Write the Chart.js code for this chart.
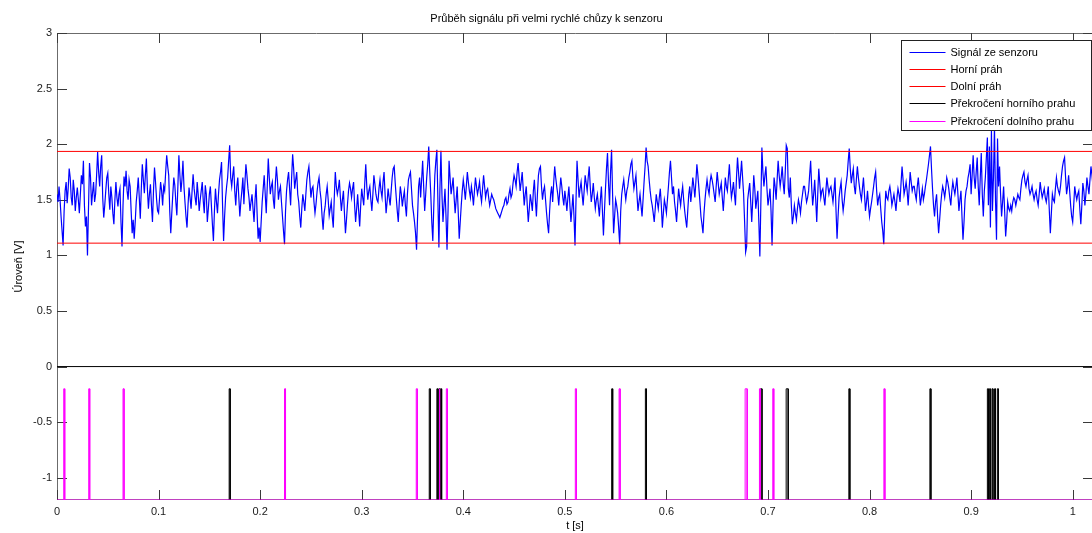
<!DOCTYPE html>
<html>
<head>
<meta charset="utf-8">
<title>Průběh signálu</title>
<script src="https://cdn.jsdelivr.net/npm/chart.js@4.4.1/dist/chart.umd.min.js"></script>
<style>
  html, body { margin: 0; padding: 0; background: #fff; overflow: hidden; }
  #wrap { width: 1100px; height: 533px; }
</style>
</head>
<body>
<div id="wrap"><canvas id="c" width="1100" height="533"></canvas></div>
<script>
// Sampling step of the sensor record [s] and the plotted time span
const dt = 0.001;
const tMax = 1.02;

// Sensor output [V], one value per sample
const signal = [
  1.55, 1.48, 1.62, 1.50, 1.35, 1.22, 1.09, 1.40, 1.58, 1.66, 1.47, 1.60, 1.78, 1.70, 1.52, 1.45, 1.68, 1.58, 1.40, 1.52,
  1.61, 1.50, 1.38, 1.55, 1.72, 1.64, 1.85, 1.45, 1.26, 1.35, 1.00, 1.42, 1.83, 1.70, 1.45, 1.56, 1.66, 1.48, 1.55, 1.72,
  1.93, 1.75, 1.62, 1.80, 1.90, 1.52, 1.34, 1.45, 1.58, 1.70, 1.74, 1.55, 1.41, 1.62, 1.52, 1.38, 1.28, 1.50, 1.66, 1.52,
  1.44, 1.55, 1.60, 1.30, 1.08, 1.45, 1.71, 1.62, 1.76, 1.58, 1.50, 1.68, 1.62, 1.40, 1.20, 1.32, 1.15, 1.30, 1.48, 1.58,
  1.70, 1.52, 1.33, 1.60, 1.82, 1.68, 1.56, 1.72, 1.87, 1.60, 1.42, 1.55, 1.64, 1.45, 1.30, 1.58, 1.79, 1.66, 1.51, 1.40,
  1.38, 1.52, 1.66, 1.58, 1.45, 1.62, 1.58, 1.75, 1.90, 1.80, 1.72, 1.40, 1.20, 1.38, 1.55, 1.70, 1.63, 1.48, 1.36, 1.62,
  1.90, 1.72, 1.57, 1.68, 1.85, 1.62, 1.48, 1.35, 1.25, 1.45, 1.61, 1.52, 1.42, 1.58, 1.73, 1.60, 1.52, 1.45, 1.66, 1.55,
  1.40, 1.50, 1.58, 1.66, 1.49, 1.38, 1.63, 1.55, 1.30, 1.42, 1.55, 1.62, 1.45, 1.28, 1.13, 1.40, 1.60, 1.48, 1.38, 1.55,
  1.68, 1.75, 1.84, 1.45, 1.13, 1.35, 1.52, 1.62, 1.70, 1.85, 1.99, 1.70, 1.62, 1.72, 1.80, 1.58, 1.45, 1.62, 1.70, 1.52,
  1.35, 1.48, 1.58, 1.70, 1.46, 1.65, 1.82, 1.72, 1.60, 1.52, 1.40, 1.48, 1.55, 1.42, 1.30, 1.50, 1.64, 1.38, 1.15, 1.25,
  1.12, 1.30, 1.48, 1.60, 1.72, 1.55, 1.38, 1.62, 1.87, 1.70, 1.55, 1.62, 1.66, 1.50, 1.42, 1.65, 1.80, 1.68, 1.50, 1.58,
  1.62, 1.48, 1.35, 1.22, 1.10, 1.40, 1.58, 1.68, 1.75, 1.60, 1.45, 1.70, 1.91, 1.78, 1.60, 1.68, 1.75, 1.55, 1.48, 1.35,
  1.25, 1.42, 1.55, 1.48, 1.40, 1.55, 1.68, 1.75, 1.80, 1.66, 1.52, 1.60, 1.62, 1.48, 1.38, 1.46, 1.57, 1.65, 1.70, 1.58,
  1.50, 1.35, 1.23, 1.38, 1.44, 1.55, 1.62, 1.50, 1.36, 1.42, 1.48, 1.35, 1.25, 1.52, 1.75, 1.62, 1.55, 1.60, 1.68, 1.52,
  1.40, 1.50, 1.58, 1.38, 1.20, 1.32, 1.46, 1.58, 1.65, 1.60, 1.52, 1.60, 1.66, 1.45, 1.30, 1.42, 1.55, 1.40, 1.26, 1.45,
  1.60, 1.52, 1.45, 1.65, 1.82, 1.62, 1.50, 1.58, 1.62, 1.50, 1.40, 1.55, 1.72, 1.64, 1.55, 1.50, 1.48, 1.60, 1.68, 1.58,
  1.52, 1.66, 1.75, 1.55, 1.38, 1.48, 1.60, 1.52, 1.45, 1.58, 1.70, 1.78, 1.80, 1.65, 1.52, 1.40, 1.30, 1.48, 1.62, 1.55,
  1.44, 1.52, 1.58, 1.45, 1.35, 1.55, 1.68, 1.72, 1.75, 1.60, 1.45, 1.38, 1.30, 1.20, 1.05, 1.35, 1.62, 1.70, 1.52, 1.68,
  1.85, 1.62, 1.40, 1.55, 1.70, 1.82, 1.98, 1.75, 1.55, 1.30, 1.13, 1.45, 1.72, 1.85, 1.95, 1.50, 1.07, 1.60, 1.94, 1.55,
  1.30, 1.45, 1.60, 1.35, 1.05, 1.40, 1.85, 1.70, 1.55, 1.62, 1.70, 1.52, 1.38, 1.50, 1.62, 1.40, 1.15, 1.30, 1.45, 1.58,
  1.68, 1.60, 1.50, 1.62, 1.75, 1.66, 1.58, 1.52, 1.62, 1.55, 1.45, 1.58, 1.70, 1.62, 1.55, 1.60, 1.66, 1.55, 1.48, 1.60,
  1.72, 1.62, 1.52, 1.58, 1.60, 1.52, 1.45, 1.50, 1.55, 1.52, 1.50, 1.46, 1.42, 1.40, 1.38, 1.36, 1.34, 1.37, 1.40, 1.43,
  1.45, 1.50, 1.52, 1.46, 1.48, 1.55, 1.60, 1.52, 1.55, 1.65, 1.72, 1.68, 1.62, 1.75, 1.83, 1.70, 1.58, 1.66, 1.75, 1.60,
  1.45, 1.55, 1.62, 1.45, 1.30, 1.42, 1.55, 1.48, 1.40, 1.58, 1.68, 1.50, 1.35, 1.55, 1.72, 1.78, 1.80, 1.62, 1.50, 1.58,
  1.62, 1.50, 1.38, 1.28, 1.20, 1.40, 1.55, 1.62, 1.48, 1.65, 1.80, 1.70, 1.62, 1.55, 1.45, 1.58, 1.70, 1.62, 1.52, 1.45,
  1.58, 1.50, 1.40, 1.52, 1.62, 1.45, 1.30, 1.42, 1.55, 1.35, 1.09, 1.50, 1.85, 1.68, 1.52, 1.60, 1.66, 1.55, 1.45, 1.58,
  1.72, 1.65, 1.58, 1.70, 1.80, 1.62, 1.48, 1.55, 1.65, 1.52, 1.42, 1.50, 1.55, 1.45, 1.35, 1.50, 1.62, 1.40, 1.18, 1.40,
  1.60, 1.78, 1.92, 1.65, 1.45, 1.75, 1.95, 1.55, 1.20, 1.35, 1.50, 1.45, 1.38, 1.25, 1.10, 1.40, 1.55, 1.62, 1.68, 1.58,
  1.50, 1.58, 1.62, 1.70, 1.75, 1.82, 1.85, 1.70, 1.60, 1.66, 1.72, 1.55, 1.40, 1.48, 1.55, 1.45, 1.35, 1.50, 1.66, 1.80,
  1.97, 1.85, 1.80, 1.68, 1.58, 1.50, 1.45, 1.38, 1.30, 1.42, 1.55, 1.48, 1.42, 1.52, 1.60, 1.45, 1.25, 1.38, 1.50, 1.45,
  1.38, 1.50, 1.62, 1.75, 1.85, 1.70, 1.55, 1.62, 1.48, 1.40, 1.30, 1.45, 1.60, 1.52, 1.45, 1.55, 1.62, 1.50, 1.40, 1.32,
  1.25, 1.40, 1.55, 1.62, 1.48, 1.58, 1.70, 1.62, 1.52, 1.66, 1.82, 1.72, 1.60, 1.48, 1.35, 1.28, 1.20, 1.38, 1.50, 1.60,
  1.68, 1.60, 1.55, 1.66, 1.72, 1.68, 1.62, 1.55, 1.48, 1.62, 1.75, 1.65, 1.55, 1.60, 1.65, 1.52, 1.40, 1.55, 1.70, 1.62,
  1.58, 1.70, 1.82, 1.65, 1.52, 1.58, 1.66, 1.55, 1.45, 1.70, 1.88, 1.75, 1.60, 1.72, 1.85, 1.70, 1.55, 1.30, 1.03, 1.08,
  1.50, 1.58, 1.65, 1.48, 1.30, 1.50, 1.72, 1.60, 1.42, 1.50, 1.58, 1.30, 0.99, 1.48, 1.97, 1.75, 1.62, 1.72, 1.80, 1.60,
  1.45, 1.52, 1.60, 1.40, 1.09, 1.45, 1.70, 1.62, 1.50, 1.68, 1.85, 1.72, 1.62, 1.70, 1.80, 1.65, 1.55, 1.75, 1.99, 1.96,
  1.60, 1.52, 1.70, 1.45, 1.28, 1.35, 1.45, 1.38, 1.32, 1.42, 1.50, 1.45, 1.38, 1.48, 1.55, 1.62, 1.62, 1.55, 1.48, 1.52,
  1.58, 1.72, 1.85, 1.62, 1.45, 1.55, 1.68, 1.50, 1.30, 1.55, 1.78, 1.65, 1.52, 1.58, 1.60, 1.52, 1.45, 1.58, 1.70, 1.62,
  1.55, 1.60, 1.62, 1.55, 1.48, 1.58, 1.70, 1.40, 1.15, 1.35, 1.52, 1.60, 1.66, 1.50, 1.40, 1.48, 1.58, 1.65, 1.72, 1.85,
  1.96, 1.78, 1.65, 1.72, 1.78, 1.62, 1.55, 1.68, 1.80, 1.70, 1.62, 1.55, 1.50, 1.60, 1.70, 1.55, 1.40, 1.48, 1.58, 1.45,
  1.35, 1.42, 1.48, 1.55, 1.62, 1.70, 1.75, 1.58, 1.45, 1.52, 1.55, 1.42, 1.30, 1.22, 1.10, 1.38, 1.58, 1.52, 1.50, 1.58,
  1.62, 1.55, 1.45, 1.50, 1.55, 1.48, 1.40, 1.52, 1.60, 1.55, 1.48, 1.65, 1.80, 1.68, 1.55, 1.60, 1.66, 1.58, 1.45, 1.60,
  1.75, 1.66, 1.58, 1.62, 1.62, 1.55, 1.50, 1.62, 1.70, 1.58, 1.45, 1.52, 1.60, 1.50, 1.55, 1.62, 1.68, 1.75, 1.82, 1.90,
  1.98, 1.78, 1.60, 1.45, 1.35, 1.48, 1.55, 1.35, 1.20, 1.32, 1.45, 1.55, 1.62, 1.58, 1.52, 1.60, 1.70, 1.66, 1.60, 1.52,
  1.45, 1.58, 1.66, 1.60, 1.55, 1.62, 1.70, 1.55, 1.40, 1.50, 1.58, 1.35, 1.14, 1.30, 1.50, 1.58, 1.62, 1.70, 1.75, 1.82,
  1.55, 1.72, 1.90, 1.70, 1.60, 1.75, 1.88, 1.62, 1.45, 1.70, 1.92, 1.55, 1.35, 1.58, 1.70, 1.88, 2.06, 1.45, 1.98, 1.25,
  2.13, 1.40, 1.70, 2.16, 1.50, 1.14, 2.05, 1.62, 1.80, 1.55, 1.35, 1.48, 1.62, 1.40, 1.17, 1.30, 1.48, 1.42, 1.40, 1.45,
  1.40, 1.48, 1.52, 1.50, 1.45, 1.50, 1.55, 1.52, 1.50, 1.60, 1.68, 1.72, 1.75, 1.66, 1.62, 1.68, 1.72, 1.60, 1.55, 1.58,
  1.62, 1.55, 1.50, 1.55, 1.58, 1.50, 1.45, 1.55, 1.66, 1.58, 1.52, 1.56, 1.60, 1.52, 1.48, 1.55, 1.62, 1.40, 1.20, 1.38,
  1.55, 1.50, 1.48, 1.60, 1.70, 1.62, 1.58, 1.55, 1.62, 1.72, 1.80, 1.85, 1.88, 1.70, 1.55, 1.62, 1.72, 1.58, 1.45, 1.35,
  1.30, 1.45, 1.62, 1.55, 1.50, 1.55, 1.58, 1.42, 1.28, 1.45, 1.65, 1.58, 1.45, 1.55, 1.70, 1.62, 1.55, 1.68, 1.80, 1.72,
  1.62
];

// Detection thresholds [V]
const upperThreshold = 1.935;
const lowerThreshold = 1.11;

// Indicator pulse levels [V]
const pulseLow = -1.2;
const pulseHigh = -0.2;

// Moments where the signal rose above the upper threshold: [start, end] in s
const upperCrossings = [
  [0.1695, 0.1705], [0.3665, 0.3675], [0.3740, 0.3750], [0.3760, 0.3770],
  [0.3777, 0.3787], [0.5461, 0.5471], [0.5793, 0.5803], [0.6926, 0.6941],
  [0.7179, 0.7199], [0.7796, 0.7806], [0.8594, 0.8604], [0.9160, 0.9170],
  [0.9180, 0.9190], [0.9205, 0.9215], [0.9230, 0.9240], [0.9258, 0.9268]
];

// Moments where the signal dropped below the lower threshold
const lowerCrossings = [
  [0.0066, 0.0076], [0.0312, 0.0322], [0.0650, 0.0660], [0.2240, 0.2250],
  [0.3537, 0.3547], [0.3762, 0.3770], [0.3833, 0.3843], [0.5103, 0.5113],
  [0.5534, 0.5544], [0.6775, 0.6795], [0.6916, 0.6924], [0.7047, 0.7057],
  [0.8141, 0.8151]
];

// Axis ticks
const xTicks = [0, 0.1, 0.2, 0.3, 0.4, 0.5, 0.6, 0.7, 0.8, 0.9, 1];
const yTicks = [-1, -0.5, 0, 0.5, 1, 1.5, 2, 2.5, 3];

// Texts
const chartTitle = 'Průběh signálu při velmi rychlé chůzy k senzoru';
const xTitle = 't [s]';
const yTitle = 'Úroveň [V]';
const seriesNames = [
  'Signál ze senzoru',
  'Horní práh',
  'Dolní práh',
  'Překročení horního prahu',
  'Překročení dolního prahu'
];

// Builds a baseline with rectangular pulses for each [start, end] pair
function pulseTrain(events) {
  const pts = [{ x: 0, y: pulseLow }];
  for (const [a, b] of events) {
    pts.push({ x: a, y: pulseLow }, { x: a, y: pulseHigh },
             { x: b, y: pulseHigh }, { x: b, y: pulseLow });
  }
  pts.push({ x: tMax, y: pulseLow });
  return pts;
}

const flat = v => [{ x: 0, y: v }, { x: tMax, y: v }];

const lineStyle = { borderWidth: 1, pointRadius: 0, fill: false, tension: 0 };

// Frame (top and left edges) with inward ticks on all four sides
const axesFrame = {
  id: 'axesFrame',
  beforeDatasetsDraw(chart) {
    const { ctx, chartArea: a, scales: { x, y } } = chart;
    const L = 10;
    const left = Math.round(a.left) + 0.5, top = Math.round(a.top) + 0.5;
    ctx.save();
    ctx.lineWidth = 1;
    ctx.strokeStyle = '#6b6b6b';
    ctx.beginPath();
    ctx.moveTo(left, a.bottom); ctx.lineTo(left, top); ctx.lineTo(a.right, top);
    ctx.stroke();
    ctx.strokeStyle = '#3a3a3a';
    ctx.beginPath();
    for (const v of xTicks) {
      const px = Math.round(x.getPixelForValue(v)) + 0.5;
      ctx.moveTo(px, a.bottom); ctx.lineTo(px, a.bottom - L);
      ctx.moveTo(px, a.top); ctx.lineTo(px, a.top + L);
    }
    for (const v of yTicks) {
      const py = Math.round(y.getPixelForValue(v)) + 0.5;
      ctx.moveTo(a.left, py); ctx.lineTo(a.left + L, py);
      ctx.moveTo(a.right, py); ctx.lineTo(a.right - L, py);
    }
    ctx.stroke();
    ctx.restore();
  }
};

// Boxed legend in the upper right corner of the plot
const boxedLegend = {
  id: 'boxedLegend',
  afterDraw(chart) {
    const { ctx, chartArea: a } = chart;
    const items = chart.data.datasets.filter(d => d.label);
    const w = 190, rowH = 17.3, h = 90;
    const right = Math.round(a.right) - 1.5;
    const left = right - w;
    const top = Math.round(a.top) + 7.5;
    ctx.save();
    ctx.fillStyle = '#fff';
    ctx.fillRect(left, top, w, h);
    ctx.strokeStyle = '#222';
    ctx.lineWidth = 1;
    ctx.strokeRect(left, top, w, h);
    ctx.font = "11px 'Liberation Sans', Arial, sans-serif";
    ctx.textBaseline = 'middle';
    ctx.textAlign = 'left';
    items.forEach((d, i) => {
      const cy = Math.round(top + 11 + i * rowH) + 0.5;
      ctx.strokeStyle = d.borderColor;
      ctx.beginPath();
      ctx.moveTo(left + 8, cy); ctx.lineTo(left + 44, cy);
      ctx.stroke();
      ctx.fillStyle = '#000';
      ctx.fillText(d.label, left + 49, cy);
    });
    ctx.restore();
  }
};

Chart.defaults.font.family = "'Liberation Sans', Arial, sans-serif";
Chart.defaults.font.size = 11;
Chart.defaults.color = '#1a1a1a';

new Chart(document.getElementById('c'), {
  type: 'line',
  data: {
    datasets: [
      { label: seriesNames[0], data: signal.map((v, i) => ({ x: i * dt, y: v })),
        borderColor: '#0000ff', order: 5, ...lineStyle, borderWidth: 1.2 },
      { label: seriesNames[1], data: flat(upperThreshold),
        borderColor: '#ff0000', order: 4, ...lineStyle },
      { label: seriesNames[2], data: flat(lowerThreshold),
        borderColor: '#ff0000', order: 3, ...lineStyle },
      { label: seriesNames[3], data: pulseTrain(upperCrossings),
        borderColor: '#000000', order: 2, ...lineStyle },
      { label: seriesNames[4], data: pulseTrain(lowerCrossings),
        borderColor: '#ff00ff', order: 1, ...lineStyle },
      { label: '', data: flat(0), borderColor: '#000000', order: 6, ...lineStyle }
    ]
  },
  options: {
    responsive: false,
    animation: false,
    devicePixelRatio: 1,
    layout: { padding: { left: 0, right: 7, top: 0, bottom: 0 } },
    plugins: {
      legend: { display: false },
      tooltip: { enabled: false },
      title: {
        display: true, text: chartTitle, color: '#000',
        font: { size: 11, weight: 'normal' },
        padding: { top: 12, bottom: 7.8 }
      }
    },
    scales: {
      x: {
        type: 'linear', min: 0, max: tMax,
        grid: { display: false, drawTicks: false },
        border: { display: false },
        afterBuildTicks: s => { s.ticks = xTicks.map(v => ({ value: v })); },
        afterFit: s => { s.height = 33; },
        ticks: { padding: 5, maxRotation: 0, autoSkip: false, callback: v => String(v) },
        title: { display: true, text: xTitle, color: '#000', padding: { top: 0, bottom: 0 } }
      },
      y: {
        type: 'linear', min: -1.2, max: 3,
        grid: { display: false, drawTicks: false },
        border: { display: false },
        afterBuildTicks: s => { s.ticks = yTicks.map(v => ({ value: v })); },
        afterFit: s => { s.width = 57; },
        ticks: { padding: 5, autoSkip: false, callback: v => String(v) },
        title: { display: true, text: yTitle, color: '#000', padding: { top: 12, bottom: 0 } }
      }
    }
  },
  plugins: [axesFrame, boxedLegend]
});
</script>
</body>
</html>
